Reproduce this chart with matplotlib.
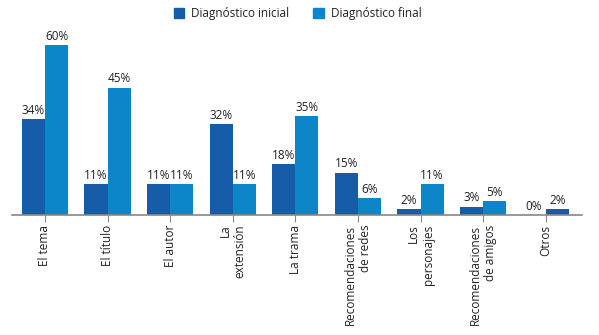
import matplotlib
matplotlib.use("Agg")
import matplotlib.pyplot as plt
import numpy as np

categories = ["El tema", "El título", "El autor", "La\nextensión", "La trama",
              "Recomendaciones\nde redes", "Los\npersonajes",
              "Recomendaciones\nde amigos", "Otros"]
inicial = [34, 11, 11, 32, 18, 15, 2, 3, 0]
final = [60, 45, 11, 11, 35, 6, 11, 5, 2]
series_names = ["Diagnóstico inicial", "Diagnóstico final"]

dark = "#165CA9"
light = "#0C86C8"
text_color = "#222222"

plt.rcParams['font.family'] = ['Open Sans', 'DejaVu Sans']

fig = plt.figure(figsize=(5.99, 3.35), dpi=100)
ax = fig.add_axes([0.02, 1 - 215/335, 0.9516, (215 - 30)/335])

x = np.arange(len(categories))
w = 0.37
final_colors = [light] * (len(categories) - 1) + [dark]
b1 = ax.bar(x - w/2, inicial, w, color=dark, label=series_names[0])
b2 = ax.bar(x + w/2, final, w, color=final_colors, label=series_names[1])

for bars, vals in ((b1, inicial), (b2, final)):
    for rect, v in zip(bars, vals):
        ax.annotate(f"{v}%", (rect.get_x() + rect.get_width()/2, rect.get_height()),
                    xytext=(0, 1.5), textcoords="offset points",
                    ha="center", va="bottom", fontsize=8.5, color=text_color)

ax.set_xlim(-0.527, 8.58)
ax.set_ylim(0, 65.3)
ax.set_xticks(x)
ax.set_xticklabels(categories, rotation=90, ha="center", va="top",
                   multialignment="right", fontsize=8.5, color=text_color)
ax.tick_params(axis="x", length=5, width=0.8, color="#888888", pad=2)
ax.set_yticks([])
for s in ("top", "right", "left"):
    ax.spines[s].set_visible(False)
ax.spines["bottom"].set_color("#888888")
ax.spines["bottom"].set_linewidth(1.2)

from matplotlib.patches import Patch
handles = [Patch(color=dark), Patch(color=light)]
fig.legend(handles, series_names, loc="upper center", bbox_to_anchor=(0.497, 1.01),
           ncol=2, frameon=False, fontsize=8.5, handlelength=0.9, handleheight=0.9,
           handletextpad=0.6, columnspacing=2.0, labelcolor=text_color)

fig.savefig("out.png", dpi=100)
